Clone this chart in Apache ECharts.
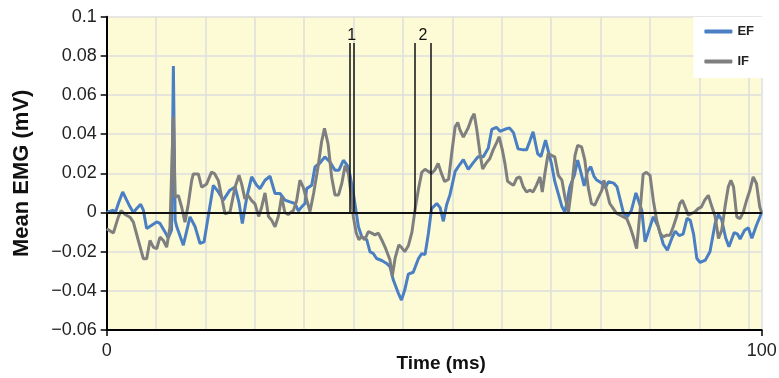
<!DOCTYPE html>
<html>
<head>
<meta charset="utf-8">
<script src="https://cdn.jsdelivr.net/npm/echarts@6/dist/echarts.min.js"></script>
<style>html,body{margin:0;padding:0;background:#fff;}#chart{width:779px;height:378px;}</style>
</head>
<body>
<div id="chart"></div>
<script>
// EF series (time in ms, mean EMG in mV)
var efTime = [0,1.02,1.27,1.78,2.44,3.05,3.56,4.07,4.58,5.19,5.6,6.1,6.87,7.63,8.14,8.9,9.4,9.9,10.18,10.45,10.7,11.7,12.72,13.5,14.25,14.86,15.5,16.28,17.05,17.8,18.8,19.6,20.2,20.71,21.4,22.13,22.9,23.4,24.17,24.93,25.7,26.46,27.22,27.98,28.75,29.26,29.76,30.27,30.53,31.3,31.8,32.56,33.3,34.09,34.85,35.46,36.13,36.74,37.15,37.65,38.1,38.42,38.93,39.7,40.2,40.7,41.2,42.0,42.74,43.25,43.76,44.5,45.0,45.5,46.05,46.8,47.6,48.1,48.6,49.1,49.6,50.4,50.9,51.4,51.9,52.4,53.2,53.9,54.45,55.2,55.97,56.7,57.5,58.26,58.8,59.5,60.05,60.8,61.5,62.1,62.8,63.6,64.1,64.6,65.1,65.8,66.3,67.0,67.9,68.4,68.95,69.5,69.95,70.2,70.7,71.4,71.9,72.4,72.9,73.4,73.9,74.4,74.8,75.6,76.1,76.6,77.4,77.9,78.4,78.9,79.5,80.1,80.8,81.1,81.7,82.2,82.7,83.45,84.2,84.98,85.6,86.3,86.8,87.4,88.0,88.6,89.1,89.6,90.1,90.6,91.4,92.1,92.9,93.4,93.9,94.5,95.0,95.8,96.3,96.7,97.4,97.95,98.5,99.2,100];
var efValue = [0,0.0012,-0.0005,0.0046,0.0105,0.0063,0.0029,0,0.002,0.0042,0.0012,-0.0082,-0.0065,-0.0048,-0.0056,-0.0099,-0.013,-0.009,0.0748,-0.004,-0.0073,-0.0167,-0.0022,-0.0073,-0.0158,-0.015,-0.002,0.0139,0.0105,0.0063,0.0114,0.013,0.005,-0.0056,0.008,0.0182,0.0139,0.0122,0.0165,0.0185,0.0097,0.0097,0.0063,0.0054,0.0046,0.0008,0.0029,0.0046,0.0122,0.0139,0.0233,0.0253,0.0284,0.0258,0.0216,0.0216,0.0267,0.0241,0.019,0.01,0,-0.0071,-0.0122,-0.0139,-0.0201,-0.0209,-0.0235,-0.0245,-0.026,-0.0277,-0.0345,-0.041,-0.0447,-0.0396,-0.0315,-0.0305,-0.0235,-0.021,-0.0215,-0.011,0.002,0.0046,0.0025,-0.0045,0.004,0.009,0.021,0.0245,0.027,0.022,0.0255,0.0285,0.0285,0.033,0.0425,0.0435,0.0415,0.0425,0.0432,0.0408,0.0325,0.032,0.032,0.0365,0.0412,0.03,0.0286,0.037,0.025,0.016,0.0095,0.003,0.0003,0.004,0.013,0.019,0.0268,0.0205,0.0136,0.021,0.0234,0.0185,0.0166,0.015,0.0125,0.0157,0.015,0.0132,0.0065,-0.0003,-0.0021,0.001,0.01,0.0107,0.001,-0.015,-0.0098,-0.0022,-0.0072,-0.0162,-0.0192,-0.013,-0.0095,-0.0118,-0.011,-0.003,-0.004,-0.011,-0.0235,-0.0255,-0.0243,-0.02,-0.0055,-0.001,-0.0038,-0.013,-0.0175,-0.0102,-0.011,-0.0135,-0.009,-0.0078,-0.0132,-0.0065,0];
// IF series
var ifTime = [0,1.01,1.78,2.2,2.8,3.56,4.07,4.83,5.59,6.1,6.61,7.12,7.63,8.14,8.65,9.15,9.66,10.17,10.43,10.94,11.45,11.95,12.46,12.97,13.22,13.99,14.5,15.26,16.0,16.5,17.05,17.56,18.06,18.82,19.59,20.2,20.6,21.1,21.6,22.13,22.64,23.2,23.6,24.17,24.7,25.2,25.7,26.2,26.7,27.2,27.7,28.5,29.0,29.5,30.0,30.5,31.04,31.6,32.3,32.8,33.25,33.8,34.35,34.85,35.4,35.9,36.4,36.9,37.3,37.65,38.1,38.5,38.9,39.4,39.95,40.45,40.96,41.47,41.98,42.6,43.25,43.6,44.05,44.6,45.0,45.5,46.05,46.6,47.1,47.6,48.1,48.6,49.1,49.6,50.1,50.6,51.1,51.6,52.2,52.7,53.2,53.6,53.9,54.45,55.2,55.7,56.1,56.5,57.0,57.4,58.0,58.5,59.0,59.5,59.9,60.4,60.8,61.2,61.6,62.1,62.6,63.1,63.6,64.1,64.6,65.1,65.6,66.15,66.5,66.9,67.4,67.9,68.4,68.95,69.5,69.95,70.5,71.0,71.5,71.9,72.5,73.0,73.5,74.0,74.5,75.1,75.6,75.9,76.3,76.8,77.35,77.85,78.4,78.9,79.4,79.9,80.4,80.9,81.4,81.9,82.4,82.95,83.45,83.96,84.5,84.98,85.5,86.0,86.5,87.0,87.5,87.9,88.3,88.8,89.3,89.8,90.3,90.8,91.3,91.85,92.4,92.9,93.4,93.9,94.4,94.9,95.3,95.7,96.2,96.7,97.2,97.7,98.2,98.7,99.2,99.7,100];
var ifValue = [-0.0083,-0.0105,-0.0022,0.001,-0.001,-0.0024,-0.0049,-0.0143,-0.0236,-0.0236,-0.0143,-0.0177,-0.0185,-0.0126,-0.0143,-0.0177,-0.0075,0.049,0.0078,0.0087,0.0027,-0.0049,0.0044,0.0163,0.0197,0.0197,0.0129,0.0146,0.0206,0.0197,0.0163,0.0078,-0.0007,0.0002,0.0129,0.019,0.0146,0.007,0.0087,0.0061,0.0044,-0.002,0.002,0.01,-0.002,-0.004,-0.0073,-0.002,0.008,0,-0.001,0.001,0.006,0.0165,0.013,0.007,0.0005,0.01,0.024,0.036,0.043,0.035,0.018,0.009,0.009,0.015,0.024,0.02,0.01,-0.002,-0.0105,-0.0139,-0.0122,-0.0139,-0.0097,-0.0105,-0.0114,-0.0105,-0.0139,-0.0185,-0.0243,-0.0325,-0.023,-0.0165,-0.0178,-0.02,-0.017,-0.01,0.002,0.012,0.0205,0.0221,0.021,0.02,0.0217,0.0251,0.02,0.0158,0.017,0.031,0.0438,0.046,0.0425,0.0385,0.0433,0.048,0.0505,0.0425,0.03,0.0222,0.0255,0.0276,0.032,0.0354,0.0387,0.032,0.025,0.016,0.015,0.0139,0.0175,0.0182,0.0131,0.0105,0.0114,0.0105,0.0139,0.0182,0.0105,0.0199,0.0301,0.0292,0.0284,0.019,0.0165,0.008,0.0003,0.0131,0.0292,0.0343,0.0335,0.0267,0.0131,0.0046,0.0037,0.008,0.0114,0.0165,0.0114,0.0046,0.002,-0.0005,-0.0014,-0.0022,-0.0031,-0.0073,-0.0124,-0.0184,-0.0005,0.0195,0.0205,0.019,0.0063,-0.0039,-0.0107,-0.0124,-0.0116,-0.0116,-0.0073,-0.0022,0.0046,0.0063,0.0029,-0.0014,-0.0005,0.0003,0.002,0.0029,0.0063,0.0088,0.0029,-0.0022,-0.0133,-0.009,0.0029,0.0131,0.0165,0.0131,-0.0022,-0.0031,0.0003,0.0063,0.0114,0.0182,0.0148,0.0029,-0.0002];
// vertical marker lines (ms) and their labels
var markerTimes = [37.15, 37.76, 46.97, 49.5];
var markerTop = 0.0866;
var markerLabels = ['1', '2'];
var markerLabelTimes = [37.4, 48.3];
var markerLabelValue = 0.0903;
// axes
var xMin = 0, xMax = 100, yMin = -0.06, yMax = 0.1, yStep = 0.02;
var gridStep = 7.54;
var seriesNames = ['EF', 'IF'];
var seriesColors = ['#4a7fc3', '#7f7f7f'];

function pairs(t, v) { return t.map(function (x, i) { return [x, v[i]]; }); }
var FONT = '"Liberation Sans", Arial, sans-serif';

var markLineData = [{ yAxis: 0, lineStyle: { width: 2, color: '#111' } }];
markerTimes.forEach(function (t) {
  markLineData.push([{ coord: [t, 0] }, { coord: [t, markerTop] }]);
});
var markPointData = markerLabels.map(function (l, i) {
  return { coord: [markerLabelTimes[i], markerLabelValue], value: l };
});

var chart = echarts.init(document.getElementById('chart'), null, { renderer: 'canvas' });
chart.setOption({
  animation: false,
  backgroundColor: '#ffffff',
  textStyle: { fontFamily: FONT },
  grid: { left: 106.7, right: 17.3, top: 16.7, bottom: 48, show: true, backgroundColor: '#fcfbd6', borderWidth: 0, containLabel: false, outerBoundsMode: 'none' },
  legend: {
    data: seriesNames, orient: 'vertical', right: 16, top: 17,
    backgroundColor: '#ffffff', padding: [7, 9, 9, 11],
    icon: 'roundRect', itemWidth: 28, itemHeight: 4, itemGap: 15,
    textStyle: { fontFamily: FONT, fontWeight: 'bold', fontSize: 13, color: '#222', lineHeight: 15 }
  },
  xAxis: [{
    type: 'value', min: xMin, max: xMax, interval: xMax - xMin,
    name: 'Time (ms)', nameLocation: 'middle', nameGap: 24, nameMoveOverlap: false,
    nameTextStyle: { fontFamily: FONT, fontWeight: 'bold', fontSize: 19, color: '#111', padding: [0, 0, 0, 14] },
    axisLine: { show: true, onZero: false, lineStyle: { color: '#000', width: 2 } },
    axisTick: { show: true, length: 6, lineStyle: { color: '#000', width: 1.5 } },
    axisLabel: { margin: 12, fontSize: 18, color: '#222', fontFamily: FONT },
    splitLine: { show: false }
  }, {
    type: 'value', min: xMin, max: xMax, interval: gridStep, position: 'bottom',
    axisLine: { show: false }, axisTick: { show: false }, axisLabel: { show: false },
    splitLine: { show: true, lineStyle: { color: '#dedede', width: 1.5 } }
  }],
  yAxis: {
    type: 'value', min: yMin, max: yMax, interval: yStep,
    name: 'Mean EMG (mV)', nameLocation: 'middle', nameGap: 74, nameRotate: 90, nameMoveOverlap: false,
    nameTextStyle: { fontFamily: FONT, fontWeight: 'bold', fontSize: 22, color: '#111' },
    axisLine: { show: true, onZero: false, lineStyle: { color: '#000', width: 2 } },
    axisTick: { show: true, length: 6, inside: false, lineStyle: { color: '#000', width: 1.5 } },
    axisLabel: {
      margin: 10, fontSize: 18, color: '#222', fontFamily: FONT,
      formatter: function (v) {
        if (Math.abs(v) < 1e-9) return '0';
        return (v < 0 ? '\u2212' : '') + String(+Math.abs(v).toFixed(2));
      }
    },
    splitLine: { show: true, lineStyle: { color: '#dedede', width: 1.5 } }
  },
  series: [{
    name: seriesNames[0], type: 'line', data: pairs(efTime, efValue),
    showSymbol: false, symbol: 'none', smooth: false,
    lineStyle: { color: seriesColors[0], width: 3 }, itemStyle: { color: seriesColors[0] }
  }, {
    name: seriesNames[1], type: 'line', data: pairs(ifTime, ifValue),
    showSymbol: false, symbol: 'none', smooth: false,
    lineStyle: { color: seriesColors[1], width: 3 }, itemStyle: { color: seriesColors[1] },
    markLine: {
      silent: true, symbol: 'none', animation: false,
      label: { show: false },
      lineStyle: { color: '#111', width: 1.5, type: 'solid' },
      emphasis: { disabled: true },
      data: markLineData
    },
    markPoint: {
      silent: true, symbol: 'circle', symbolSize: 0, animation: false,
      label: { show: true, position: 'inside', formatter: '{c}', color: '#111', fontSize: 16, fontFamily: FONT },
      data: markPointData
    }
  }]
});
</script>
</body>
</html>
